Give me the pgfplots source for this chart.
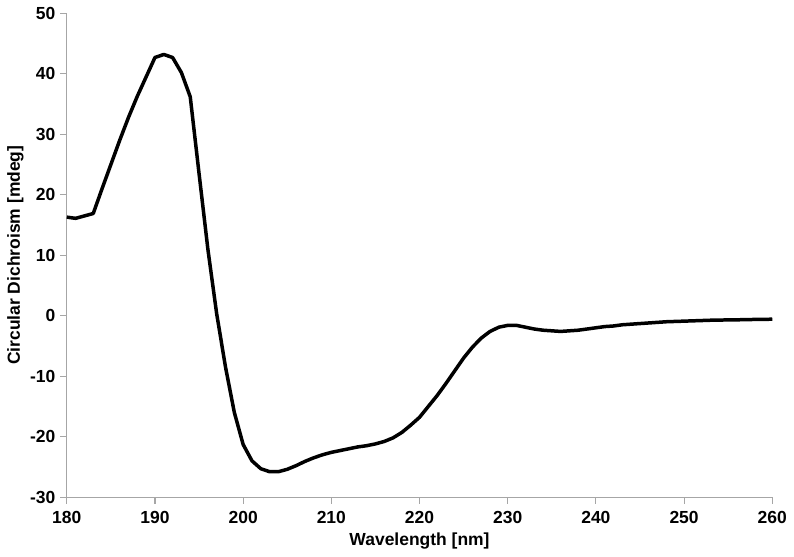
\documentclass[border=2pt]{standalone}
\usepackage{fontspec}
\setmainfont{Liberation Sans}
\setsansfont{Liberation Sans}
\usepackage{pgfplots}
\pgfplotsset{compat=1.18}

\begin{document}
\begin{tikzpicture}
\begin{axis}[
    scale only axis, width=525pt, height=360pt,
    xmin=180, xmax=260, ymin=-30, ymax=50,
    xtick={180,190,...,260}, ytick={-30,-20,...,50},
    axis lines=left, axis line style={-, gray!70, line width=0.8pt},
    tick style={gray!70, line width=0.8pt}, tick align=outside,
    major tick length=5pt,
    /pgf/number format/assume math mode=true,
    tick label style={font=\fontsize{13}{15}\selectfont\bfseries},
    xticklabel style={yshift=-2pt},
    label style={font=\fontsize{13}{15}\selectfont\bfseries},
    xlabel={Wavelength [nm]}, ylabel={Circular Dichroism [mdeg]},
    xlabel style={yshift=0pt}, ylabel style={yshift=-2pt},
    clip=false]
\addplot[black, line width=2.6pt, line join=round] coordinates {
(180,16.3) (181,16.1) (182,16.5) (183,16.9) (184,21.0) (185,25.0) (186,29.0)
(187,32.8) (188,36.3) (189,39.5) (190,42.7) (191,43.2) (192,42.7) (193,40.2)
(194,36.2) (195,23.5) (196,11.0) (197,0.3) (198,-8.5) (199,-16.0) (200,-21.3)
(201,-24.0) (202,-25.3) (203,-25.8) (204,-25.8) (205,-25.4) (206,-24.8)
(207,-24.1) (208,-23.5) (209,-23.0) (210,-22.6) (211,-22.3) (212,-22.0)
(213,-21.7) (214,-21.5) (215,-21.2) (216,-20.8) (217,-20.2) (218,-19.3)
(219,-18.1) (220,-16.8) (221,-15.0) (222,-13.2) (223,-11.2) (224,-9.1)
(225,-7.0) (226,-5.2) (227,-3.7) (228,-2.6) (229,-1.9) (230,-1.6) (231,-1.6)
(232,-1.9) (233,-2.2) (234,-2.4) (235,-2.5) (236,-2.6) (237,-2.5) (238,-2.4)
(239,-2.2) (240,-2.0) (241,-1.8) (242,-1.7) (243,-1.5) (244,-1.4) (245,-1.3)
(246,-1.2) (247,-1.1) (248,-1.0) (249,-0.95) (250,-0.9) (251,-0.85)
(252,-0.8) (253,-0.75) (254,-0.72) (255,-0.7) (256,-0.68) (257,-0.65)
(258,-0.62) (259,-0.6) (260,-0.58)
};
\end{axis}
\end{tikzpicture}
\end{document}
